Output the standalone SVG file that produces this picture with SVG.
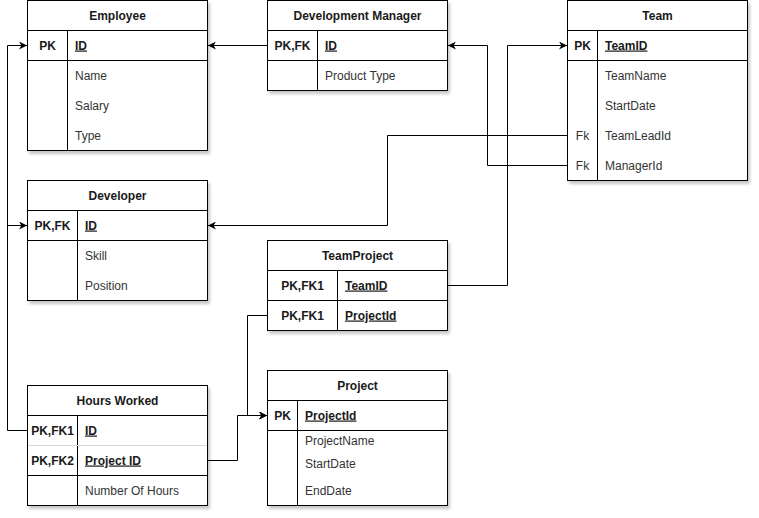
<svg xmlns="http://www.w3.org/2000/svg" width="759" height="518" viewBox="0 0 759 518">
<style>
.box{fill:#fff;stroke:#000;stroke-width:1}
.ln{stroke:#000;stroke-width:1;fill:none}
.lt{stroke:#d8d8d8;stroke-width:1;fill:none}
text{font-family:"Liberation Sans",Arial,Helvetica,sans-serif;font-size:12px;fill:#1a1a1a}
.h{font-weight:bold;text-anchor:middle}
.k{font-weight:bold;text-anchor:middle}
.kf{text-anchor:middle}
.pk{font-weight:bold;text-decoration:underline}
.f{fill:#333}
.c{stroke:#000;stroke-width:1;fill:none;marker-end:url(#arr)}
</style>
<defs>
<filter id="sh" x="-10%" y="-10%" width="130%" height="130%">
<feDropShadow dx="2" dy="3" stdDeviation="1.5" flood-color="#000" flood-opacity="0.22"/>
</filter>
<marker id="arr" viewBox="0 0 10 10" refX="10" refY="5" markerWidth="8" markerHeight="8" markerUnits="userSpaceOnUse" orient="auto">
<path d="M0,0 L10,5 L0,10 L3,5 z" fill="#000"/>
</marker>
</defs>
<rect width="759" height="518" fill="#fff"/>

<g id="connectors">
<path class="c" d="M267.5,45.5 L208,45.5"/>
<path class="c" d="M567.5,165.5 L487.5,165.5 L487.5,45.5 L448,45.5"/>
<path class="c" d="M567.5,135.5 L387.5,135.5 L387.5,225.5 L208,225.5"/>
<path class="c" d="M447.5,285.5 L507.5,285.5 L507.5,45.5 L567,45.5"/>
<path class="c" d="M27.5,430.5 L7.5,430.5 L7.5,45.5 L27,45.5"/>
<path class="c" d="M7.5,225.5 L27,225.5"/>
<path class="c" d="M207.5,460.5 L237.5,460.5 L237.5,415.5 L267,415.5"/>
<path class="c" d="M267.5,315.5 L247.5,315.5 L247.5,415.5 L267,415.5"/>
</g>

<g id="employee">
<rect class="box" x="27.5" y="0.5" width="180" height="150" filter="url(#sh)"/>
<path class="ln" d="M27.5,30.5 H207.5 M27.5,60.5 H207.5 M67.5,30.5 V150.5"/>
<text class="h" x="117.5" y="19.5">Employee</text>
<text class="k" x="47.5" y="49.5">PK</text>
<text class="pk" x="75" y="49.5">ID</text>
<text class="f" x="75" y="79.5">Name</text>
<text class="f" x="75" y="109.5">Salary</text>
<text class="f" x="75" y="139.5">Type</text>
</g>

<g id="development-manager">
<rect class="box" x="267.5" y="0.5" width="180" height="90" filter="url(#sh)"/>
<path class="ln" d="M267.5,30.5 H447.5 M267.5,60.5 H447.5 M317.5,30.5 V90.5"/>
<text class="h" x="357.5" y="19.5">Development Manager</text>
<text class="k" x="292.5" y="49.5">PK,FK</text>
<text class="pk" x="325" y="49.5">ID</text>
<text class="f" x="325" y="79.5">Product Type</text>
</g>

<g id="team">
<rect class="box" x="567.5" y="0.5" width="180" height="180" filter="url(#sh)"/>
<path class="ln" d="M567.5,30.5 H747.5 M567.5,60.5 H747.5 M597.5,30.5 V180.5"/>
<text class="h" x="657.5" y="19.5">Team</text>
<text class="k" x="582.5" y="49.5">PK</text>
<text class="pk" x="605" y="49.5">TeamID</text>
<text class="f" x="605" y="79.5">TeamName</text>
<text class="f" x="605" y="109.5">StartDate</text>
<text class="kf f" x="582.5" y="139.5">Fk</text>
<text class="f" x="605" y="139.5">TeamLeadId</text>
<text class="kf f" x="582.5" y="169.5">Fk</text>
<text class="f" x="605" y="169.5">ManagerId</text>
</g>

<g id="developer">
<rect class="box" x="27.5" y="180.5" width="180" height="120" filter="url(#sh)"/>
<path class="ln" d="M27.5,210.5 H207.5 M27.5,240.5 H207.5 M77.5,210.5 V300.5"/>
<text class="h" x="117.5" y="199.5">Developer</text>
<text class="k" x="52.5" y="229.5">PK,FK</text>
<text class="pk" x="85" y="229.5">ID</text>
<text class="f" x="85" y="259.5">Skill</text>
<text class="f" x="85" y="289.5">Position</text>
</g>

<g id="team-project">
<rect class="box" x="267.5" y="240.5" width="180" height="90" filter="url(#sh)"/>
<path class="ln" d="M267.5,270.5 H447.5 M267.5,300.5 H447.5 M337.5,270.5 V330.5"/>
<text class="h" x="357.5" y="259.5">TeamProject</text>
<text class="k" x="302.5" y="289.5">PK,FK1</text>
<text class="pk" x="345" y="289.5">TeamID</text>
<text class="k" x="302.5" y="319.5">PK,FK1</text>
<text class="pk" x="345" y="319.5">ProjectId</text>
</g>

<g id="hours-worked">
<rect class="box" x="27.5" y="385.5" width="180" height="120" filter="url(#sh)"/>
<path class="ln" d="M27.5,415.5 H207.5 M27.5,475.5 H207.5 M77.5,415.5 V505.5"/>
<path class="lt" d="M28,445.5 H207"/>
<text class="h" x="117.5" y="404.5">Hours Worked</text>
<text class="k" x="52.5" y="434.5">PK,FK1</text>
<text class="pk" x="85" y="434.5">ID</text>
<text class="k" x="52.5" y="464.5">PK,FK2</text>
<text class="pk" x="85" y="464.5">Project ID</text>
<text class="f" x="85" y="494.5">Number Of Hours</text>
</g>

<g id="project">
<rect class="box" x="267.5" y="370.5" width="180" height="135" filter="url(#sh)"/>
<path class="ln" d="M267.5,400.5 H447.5 M267.5,430.5 H447.5 M297.5,400.5 V505.5"/>
<text class="h" x="357.5" y="389.5">Project</text>
<text class="k" x="282.5" y="419.5">PK</text>
<text class="pk" x="305" y="419.5">ProjectId</text>
<text class="f" x="305" y="444.5">ProjectName</text>
<text class="f" x="305" y="467.5">StartDate</text>
<text class="f" x="305" y="494.5">EndDate</text>
</g>
</svg>
